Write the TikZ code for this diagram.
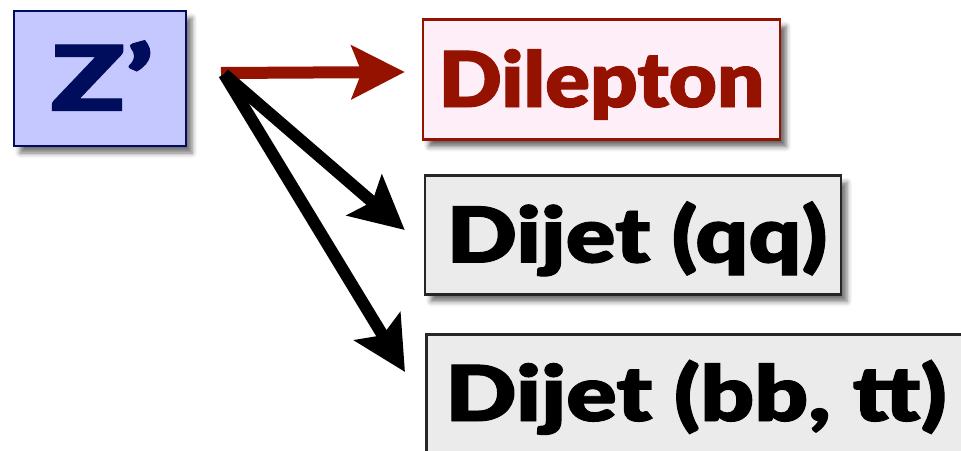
\documentclass[tikz,border=0pt]{standalone}
\usepackage{fontspec}
\newfontfamily\heavy{Lato Black}[FakeBold=1.2]
\usetikzlibrary{arrows.meta,shadows.blur}
\definecolor{zfill}{HTML}{C4C8FF}
\definecolor{znavy}{HTML}{000C5C}
\definecolor{dred}{HTML}{961200}
\definecolor{dfill}{HTML}{FDEEF8}
\definecolor{gfill}{HTML}{EBEBEB}
\tikzset{
  boxshadow/.style={blur shadow={shadow xshift=6pt, shadow yshift=-7pt, shadow blur radius=5pt, shadow opacity=55}},
  redshadow/.style={blur shadow={shadow xshift=6pt, shadow yshift=-7pt, shadow blur radius=5pt, shadow opacity=60, fill=dred}},
  labtext/.style={font=\heavy\fontsize{77}{80}\selectfont, text height=55pt, text depth=0pt, inner sep=0pt},
  bigarrow/.style={line width=12pt, -{Stealth[length=53pt, width=53pt, inset=10pt]}},
}
\begin{document}
\begin{tikzpicture}[x=1pt,y=-1pt]
\useasboundingbox (0,0) rectangle (961,450);
% boxes
\node[boxshadow, draw=znavy, line width=2.5pt, fill=zfill, minimum width=172pt, minimum height=135pt, inner sep=0pt,
      text=znavy, font=\heavy\fontsize{90}{92}\selectfont, text height=64pt, text depth=0pt] (z) at (100,78.5) {\hspace{4pt}\scalebox{1.36}[1]{Z’}};
\node[redshadow, draw=dred, line width=2.5pt, fill=dfill, minimum width=357pt, minimum height=120pt, labtext, text=dred] (dil) at (601.5,79.5) {\scalebox{1.08}[1]{Dilepton}};
\node[boxshadow, draw=black!85, line width=2.5pt, fill=gfill, minimum width=416pt, minimum height=119pt, labtext] (qq) at (633,235) {\hspace{8pt}\scalebox{1.2}[1]{Dijet (qq)}};
\node[boxshadow, draw=black!85, line width=2.5pt, fill=gfill, minimum width=560pt, minimum height=150pt, anchor=north west] (bb) at (425,333) {};
\node[labtext, anchor=base west] (bbt) at (445,421) {\scalebox{1.22}[1]{Dijet (bb, tt)}};
% arrows
\coordinate (o) at (221,73);
\coordinate (ob) at (224,74);
\draw[bigarrow, draw=dred, fill=dred] (o) -- ([xshift=-17pt, yshift=7.5pt]dil.west);
\draw[bigarrow] (ob) -- ([xshift=-19pt, yshift=5pt]qq.west);
\draw[bigarrow] (ob) -- ([xshift=-20pt, yshift=-39pt]bb.north west);
\end{tikzpicture}
\end{document}
